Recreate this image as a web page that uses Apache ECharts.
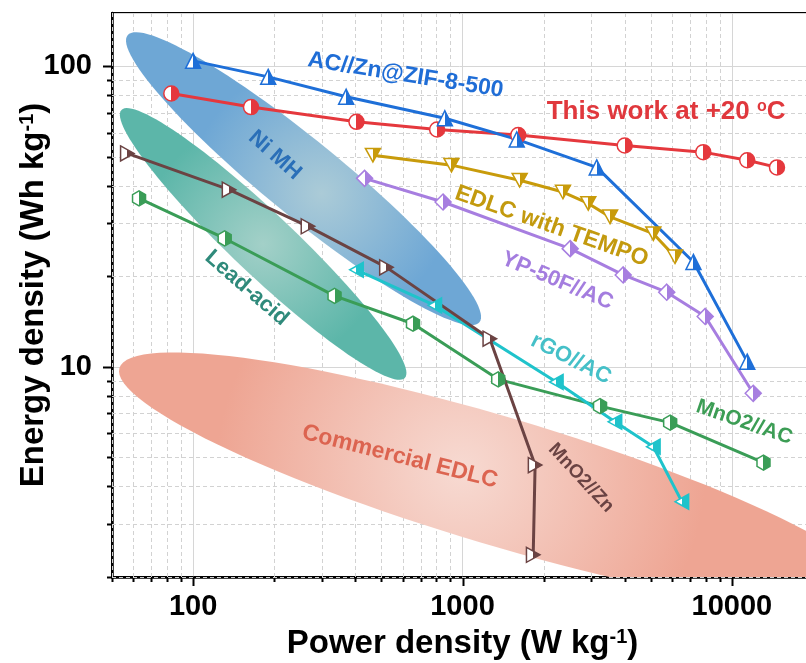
<!DOCTYPE html>
<html><head><meta charset="utf-8">
<script src="https://cdn.jsdelivr.net/npm/echarts@6/dist/echarts.min.js"></script>
<style>html,body{margin:0;padding:0;background:#fff}#c{width:806px;height:663px}</style>
</head><body><div id="c"></div>
<script>
// ---------- data (power density W/kg, energy density Wh/kg) ----------
const acznPower   = [100, 190, 370, 860, 1590, 3150, 7200, 11400];
const acznEnergy  = [104, 92, 79, 67, 57, 46, 22.3, 10.4];
const thisPower   = [83, 164, 404, 805, 1610, 4000, 7830, 11400, 14700];
const thisEnergy  = [81, 73, 65.2, 61.5, 58.9, 54.4, 51.7, 48.6, 46.0];
const tempoPower  = [465, 910, 1630, 2360, 2930, 3530, 5110, 6150];
const tempoEnergy = [50.5, 46.8, 41.7, 38.1, 34.9, 31.5, 27.7, 23.2];
const ypPower     = [433, 847, 2510, 3950, 5730, 7960, 12000];
const ypEnergy    = [42.3, 35.3, 24.7, 20.2, 17.7, 14.7, 8.16];
const mnznPower   = [57, 136, 267, 522, 1263, 1860, 1830];
const mnznEnergy  = [51.2, 38.8, 29.3, 21.4, 12.4, 4.71, 2.37];
const rgoPower    = [404, 789, 2230, 3680, 5110, 6520];
const rgoEnergy   = [21.0, 16.0, 8.9, 6.56, 5.42, 3.56];
const mnacPower   = [63, 131, 335, 655, 1357, 3240, 5900, 13100];
const mnacEnergy  = [36.3, 26.7, 17.2, 13.9, 9.08, 7.40, 6.52, 4.80];

// ---------- axes / ticks ----------
const X_MIN = 50, X_MAX = 20000, Y_MIN = 2, Y_MAX = 150;
const xMajorTicks = [100, 1000, 10000];
const xMinorTicks = [50, 60, 70, 80, 90, 200, 300, 400, 500, 600, 700, 800, 900,
                     2000, 3000, 4000, 5000, 6000, 7000, 8000, 9000];
const yMajorTicks = [10, 100];
const yMinorTicks = [2, 3, 4, 5, 6, 7, 8, 9, 20, 30, 40, 50, 60, 70, 80, 90];

const FONT = '"Liberation Sans", Arial, Helvetica, sans-serif';

// ---------- shaded regions (center in data coords) ----------
const regions = [
  { name: 'Ni MH',           center: [257, 42.2],  a: 227, b: 38, angle: 39.2, edge: '#6ea7d5', mid: '#abcbd7', gx: 0.55, gy: 0.55, gr: 0.45 },
  { name: 'Lead-acid',       center: [182, 25.6],  a: 195, b: 31, angle: 43.4, edge: '#5cb6a9', mid: '#a3d0c8', gx: 0.5, gy: 0.5, gr: 0.45 },
  { name: 'Commercial EDLC', center: [1365, 4.165], a: 396, b: 64, angle: 16.6, edge: '#eea593', mid: '#f7dad2', gx: 0.45, gy: 0.46, gr: 0.95 }
];

// ---------- annotations (anchor in data coords) ----------
const annotations = [
  { text: 'AC//Zn@ZIF-8-500', at: [615, 93.1],  rot: -9,    size: 23, color: '#1f6dd6' },
  { text: '{a|This work at +20 }{s|o}{a|C}', at: [5699, 70.5], rot: 0, size: 26, color: '#e0383d', rich: true },
  { text: 'Ni MH',            at: [201, 50.5],  rot: -41.5, size: 22, color: '#2a6fb8' },
  { text: 'Lead-acid',        at: [158, 18.25], rot: -41,   size: 22, color: '#2f8a7b' },
  { text: 'EDLC with TEMPO',  at: [2144, 29.3], rot: -19.5, size: 23, color: '#c39a0e' },
  { text: 'YP-50F//AC',       at: [2249, 19.3], rot: -22.8, size: 22, color: '#a47ddf' },
  { text: 'rGO//AC',          at: [2527, 10.6], rot: -27,   size: 22, color: '#45c0c8' },
  { text: 'MnO2//AC',         at: [11110, 6.53], rot: -19,  size: 21, color: '#3c9d55' },
  { text: 'MnO2//Zn',         at: [2755, 4.27], rot: -47,   size: 19, color: '#6a4343' },
  { text: 'Commercial EDLC',  at: [585, 5.02],  rot: -14.2, size: 23, color: '#dc6450' }
];

function zip(xs, ys) { return xs.map((x, i) => [x, ys[i]]); }
function halfFill(c) {
  return { type: 'linear', x: 0, y: 0, x2: 1, y2: 0,
    colorStops: [{ offset: 0, color: '#ffffff' }, { offset: 0.5, color: '#ffffff' },
                 { offset: 0.5, color: c }, { offset: 1, color: c }] };
}
const SYM = {
  up: 'triangle',
  down: 'path://M0,0L10,0L5,9Z',
  right: 'path://M0,0L9,5L0,10Z',
  left: 'path://M9,0L0,5L9,10Z',
  circle: 'circle',
  diamond: 'diamond',
  hex: 'path://M5,0L9.33,2.5L9.33,7.5L5,10L0.67,7.5L0.67,2.5Z'
};
function lineSeries(name, xs, ys, color, sym, size) {
  return {
    type: 'line', name, data: zip(xs, ys), z: 5,
    symbol: SYM[sym], symbolSize: size || 15, symbolKeepAspect: true,
    lineStyle: { color, width: 3 },
    itemStyle: { color: halfFill(color), borderColor: color, borderWidth: 1.5 },
    emphasis: { disabled: true }, animation: false
  };
}

function tickSeries(values, isX, major) {
  return {
    type: 'custom', silent: true, z: 1, animation: false, clip: false,
    data: values.map(v => isX ? [v, Y_MIN] : [X_MIN, v]),
    renderItem: function (params, api) {
      const cs = params.coordSys;
      const p = api.coord([api.value(0), api.value(1)]);
      const len = major ? 9 : 5;
      const children = [];
      if (isX) {
        const x = Math.round(p[0]) + 0.5;
        const bottom = cs.y + cs.height;
        if (!major) children.push({ type: 'line', shape: { x1: x, y1: cs.y, x2: x, y2: bottom },
          style: { stroke: '#d2d2d2', lineWidth: 1, lineDash: [4, 3] } });
        children.push({ type: 'line', shape: { x1: x, y1: bottom, x2: x, y2: bottom + len },
          style: { stroke: '#000', lineWidth: 2 } });
      } else {
        const y = Math.round(p[1]) + 0.5;
        const left = cs.x;
        if (!major) children.push({ type: 'line', shape: { x1: left, y1: y, x2: cs.x + cs.width, y2: y },
          style: { stroke: '#d2d2d2', lineWidth: 1, lineDash: [4, 3] } });
        children.push({ type: 'line', shape: { x1: left, y1: y, x2: left - len, y2: y },
          style: { stroke: '#000', lineWidth: 2 } });
      }
      return { type: 'group', children };
    }
  };
}

const regionSeries = {
  type: 'custom', silent: true, z: 2, animation: false, clip: true,
  data: regions.map(r => r.center),
  renderItem: function (params, api) {
    const r = regions[params.dataIndex];
    const c = api.coord([api.value(0), api.value(1)]);
    const th = r.angle * Math.PI / 180;
    const pts = [];
    for (let i = 0; i < 120; i++) {
      const t = i / 120 * Math.PI * 2;
      const u = r.a * Math.cos(t), v = r.b * Math.sin(t);
      pts.push([c[0] + u * Math.cos(th) - v * Math.sin(th), c[1] + u * Math.sin(th) + v * Math.cos(th)]);
    }
    return { type: 'polygon', shape: { points: pts },
      style: { fill: { type: 'radial', x: r.gx, y: r.gy, r: r.gr,
        colorStops: [{ offset: 0, color: r.mid }, { offset: 1, color: r.edge }] } } };
  }
};

const labelSeries = {
  type: 'custom', silent: true, z: 8, animation: false, clip: false,
  data: annotations.map(a => a.at),
  renderItem: function (params, api) {
    const a = annotations[params.dataIndex];
    const p = api.coord([api.value(0), api.value(1)]);
    const style = { text: a.text, fill: a.color, align: 'center', verticalAlign: 'middle',
      font: 'bold ' + a.size + 'px ' + FONT };
    if (a.rich) {
      style.rich = {
        a: { fill: a.color, fontSize: a.size, fontWeight: 'bold', fontFamily: FONT },
        s: { fill: a.color, fontSize: Math.round(a.size * 0.62), fontWeight: 'bold', fontFamily: FONT,
             verticalAlign: 'top', lineHeight: a.size }
      };
    }
    return { type: 'text', x: p[0], y: p[1], rotation: a.rot * Math.PI / 180, style };
  }
};

function powLabel(v) {
  const l = Math.log10(v);
  return Math.abs(l - Math.round(l)) < 1e-6 ? String(Math.round(v)) : '';
}

const chart = echarts.init(document.getElementById('c'), null, { renderer: 'canvas' });
chart.setOption({
  animation: false,
  backgroundColor: '#fff',
  grid: { left: 112, top: 13, right: -7, bottom: 86, show: true, borderColor: '#000', borderWidth: 2,
          backgroundColor: 'transparent', containLabel: false, outerBoundsMode: 'none' },
  xAxis: {
    type: 'log', logBase: 10, min: X_MIN, max: X_MAX,
    name: 'Power density (W kg{sup|-1})', nameLocation: 'middle', nameGap: 50, nameMoveOverlap: false,
    nameTextStyle: { fontSize: 33, fontWeight: 'bold', color: '#000', fontFamily: FONT,
      rich: { sup: { fontSize: 20, fontWeight: 'bold', color: '#000', fontFamily: FONT, verticalAlign: 'top' } } },
    axisLine: { show: true, onZero: false, lineStyle: { color: '#000', width: 2.5 } },
    axisTick: { show: false },
    minorTick: { show: false },
    splitLine: { show: true, lineStyle: { color: '#d6d6d6', width: 1 } },
    axisLabel: { fontSize: 29, fontWeight: 'bold', color: '#000', fontFamily: FONT, margin: 15, formatter: powLabel }
  },
  yAxis: {
    type: 'log', logBase: 10, min: Y_MIN, max: Y_MAX,
    name: 'Energy density (Wh kg{sup|-1})', nameLocation: 'middle', nameGap: 62, nameMoveOverlap: false,
    nameTextStyle: { fontSize: 33, fontWeight: 'bold', color: '#000', fontFamily: FONT,
      rich: { sup: { fontSize: 20, fontWeight: 'bold', color: '#000', fontFamily: FONT, verticalAlign: 'top' } } },
    axisLine: { show: true, onZero: false, lineStyle: { color: '#000', width: 2.5 } },
    axisTick: { show: false },
    minorTick: { show: false },
    splitLine: { show: true, lineStyle: { color: '#d6d6d6', width: 1 } },
    axisLabel: { fontSize: 29, fontWeight: 'bold', color: '#000', fontFamily: FONT, margin: 20, formatter: powLabel }
  },
  series: [
    tickSeries(xMinorTicks, true, false),
    tickSeries(xMajorTicks, true, true),
    tickSeries(yMinorTicks, false, false),
    tickSeries(yMajorTicks, false, true),
    regionSeries,
    lineSeries('MnO2//AC', mnacPower, mnacEnergy, '#3a9d57', 'hex', 15),
    lineSeries('rGO//AC', rgoPower, rgoEnergy, '#1fc3cb', 'left', 15),
    lineSeries('MnO2//Zn', mnznPower, mnznEnergy, '#6b4343', 'right', 15),
    lineSeries('YP-50F//AC', ypPower, ypEnergy, '#a77ee0', 'diamond', 16),
    lineSeries('EDLC with TEMPO', tempoPower, tempoEnergy, '#c89b0b', 'down', 15),
    lineSeries('This work', thisPower, thisEnergy, '#e5383d', 'circle', 15),
    lineSeries('AC//Zn@ZIF-8-500', acznPower, acznEnergy, '#1e6fd8', 'up', 15),
    labelSeries
  ]
});
</script>
</body></html>
